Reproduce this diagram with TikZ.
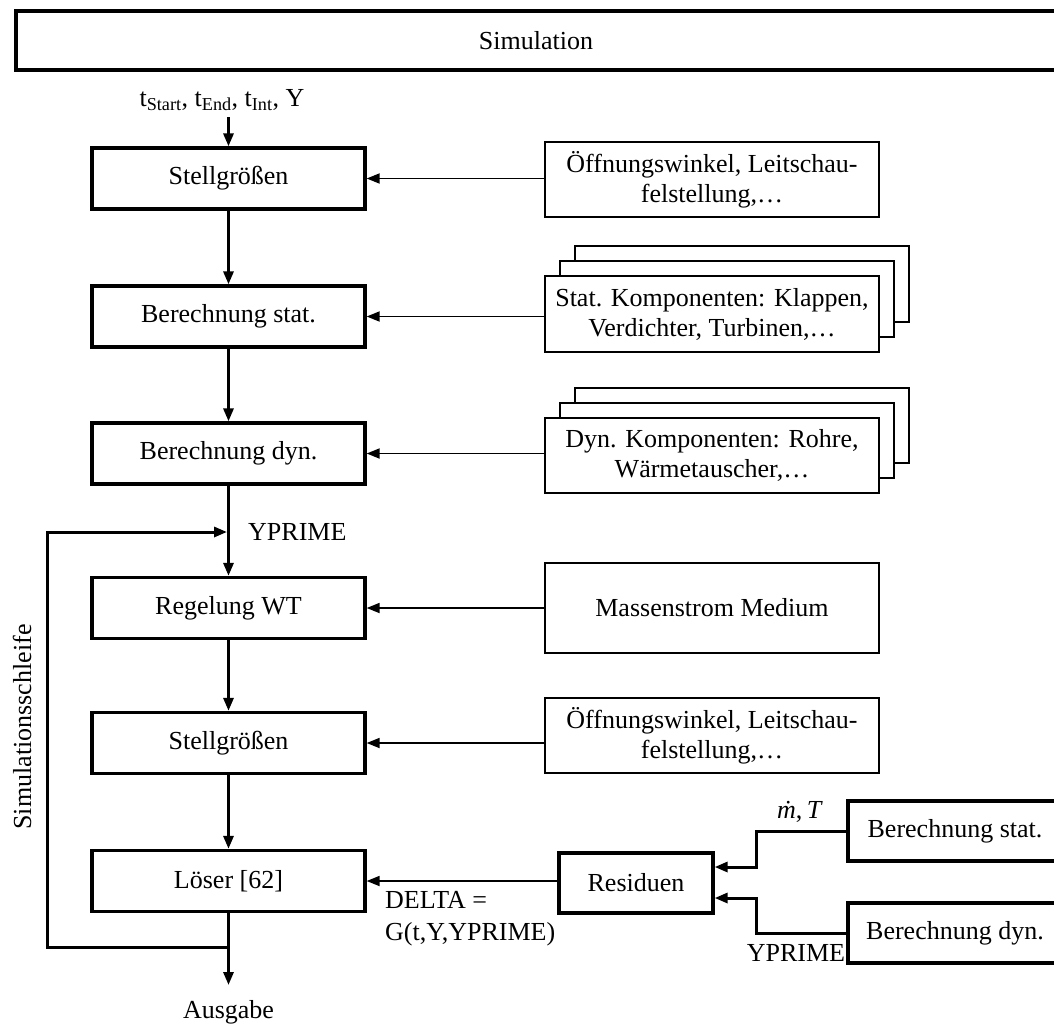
\documentclass[tikz,border=0pt]{standalone}
\usepackage{fontspec}
\setmainfont{Liberation Serif}
\usetikzlibrary{arrows.meta}
\begin{document}
\begin{tikzpicture}[x=1pt,y=-1pt,
  every node/.style={font=\fontsize{26}{30}\selectfont, inner sep=0pt},
  mainbox/.style={draw, line width=3.3pt, minimum width=273pt, minimum height=61pt},
  sidebox/.style={draw, fill=white, line width=1.8pt, minimum width=334pt, minimum height=75pt, align=center},
  calcbox/.style={draw, line width=3.3pt, minimum width=214pt, minimum height=60pt},
  thickarr/.style={line width=3pt, -{Triangle[length=13pt,width=10pt]}},
  thinarr/.style={line width=1.8pt, -{Triangle[length=13pt,width=10pt]}},
  thickline/.style={line width=3pt}
]
\useasboundingbox (0,0) rectangle (1054,1023);
\clip (0,0) rectangle (1054,1023);

% top box
\node[draw, line width=3.3pt, minimum width=1040pt, minimum height=59pt] (sim) at (536,40.5) {Simulation};

% main column
\node[mainbox] (s1) at (228.5,178.5) {Stellgrößen};
\node[mainbox] (bs) at (228.5,316.5) {Berechnung stat.};
\node[mainbox] (bd) at (228.5,453.5) {Berechnung dyn.};
\node[mainbox] (rw) at (228.5,608) {Regelung WT};
\node[mainbox] (s2) at (228.5,743) {Stellgrößen};
\node[mainbox] (ls) at (228.5,881) {Löser [62]};

% input label
\node (tin) at (222,100) {t\textsubscript{Start}, t\textsubscript{End}, t\textsubscript{Int}, Y};
\coordinate (tarr) at (228.5,117);

% side boxes
\node[sidebox] (o1) at (712,179.5) {Öffnungswinkel, Leitschau-\\felstellung,\dots};
\node[sidebox, minimum height=76pt] (stat3) at (742,284) {};
\node[sidebox, minimum height=76pt] (stat2) at (727,299) {};
\node[sidebox, minimum height=76pt] (stat) at (712,314) {Stat. Komponenten: Klappen,\\Verdichter, Turbinen,\dots};
\node[sidebox, minimum height=75pt] (dyn3) at (742,425.5) {};
\node[sidebox, minimum height=75pt] (dyn2) at (727,440.5) {};
\node[sidebox, minimum height=75pt] (dyn) at (712,455.5) {Dyn. Komponenten: Rohre,\\Wärmetauscher,\dots};
\node[sidebox, minimum height=90pt] (mm) at (712,608) {Massenstrom Medium};
\node[sidebox] (o2) at (712,735.5) {Öffnungswinkel, Leitschau-\\felstellung,\dots};

% residual part
\node[draw, line width=3.3pt, minimum width=154pt, minimum height=60pt] (res) at (636,883) {Residuen};
\node[calcbox] (bst) at (955,831) {Berechnung stat.};
\node[calcbox] (bdy) at (955,933) {Berechnung dyn.};

% labels
\node (mt) at (800,812) {\textit{\.m},\,\textit{T}};
\node (yp2) at (796,953) {YPRIME};
\node[anchor=west] (yp1) at (248,532) {YPRIME};
\node[anchor=west, align=left, font=\fontsize{26}{32}\selectfont] (delta) at (385,919) {DELTA =\\G(t,Y,YPRIME)};
\node[rotate=90] (loop) at (22,727) {Simulationsschleife};
\node (ausg) at (228.5,1012) {Ausgabe};

% main arrows
\draw[thickarr] (tarr) -- (s1.north);
\draw[thickarr] (s1.south) -- (bs.north);
\draw[thickarr] (bs.south) -- (bd.north);
\draw[thickarr] (bd.south) -- (rw.north);
\draw[thickarr] (rw.south) -- (s2.north);
\draw[thickarr] (s2.south) -- (ls.north);
\coordinate (aend) at (228.5,985);
\draw[thickarr] (ls.south) -- (aend);

% loop
\coordinate (lb) at (228.5,947);
\coordinate (lc) at (47,947);
\coordinate (lt) at (47,532);
\coordinate (lin) at (227,532);
\draw[thickarr, line join=miter] (lb) -- (lc) -- (lt) -- (lin);

% side arrows
\draw[thinarr] (o1.west |- s1.east) -- (s1.east);
\draw[thinarr] (stat.west |- bs.east) -- (bs.east);
\draw[thinarr] (dyn.west |- bd.east) -- (bd.east);
\draw[thinarr] (mm.west |- rw.east) -- (rw.east);
\draw[thinarr] (o2.west |- s2.east) -- (s2.east);
\draw[thinarr] (res.west |- ls.east) -- (ls.east);

% residual inputs
\draw[thickarr, line join=miter] (bst.west) -- ++(-90,0) |- ([yshift=16pt]res.east);
\draw[thickarr, line join=miter] (bdy.west) -- ++(-90,0) |- ([yshift=-15pt]res.east);
\end{tikzpicture}
\end{document}
